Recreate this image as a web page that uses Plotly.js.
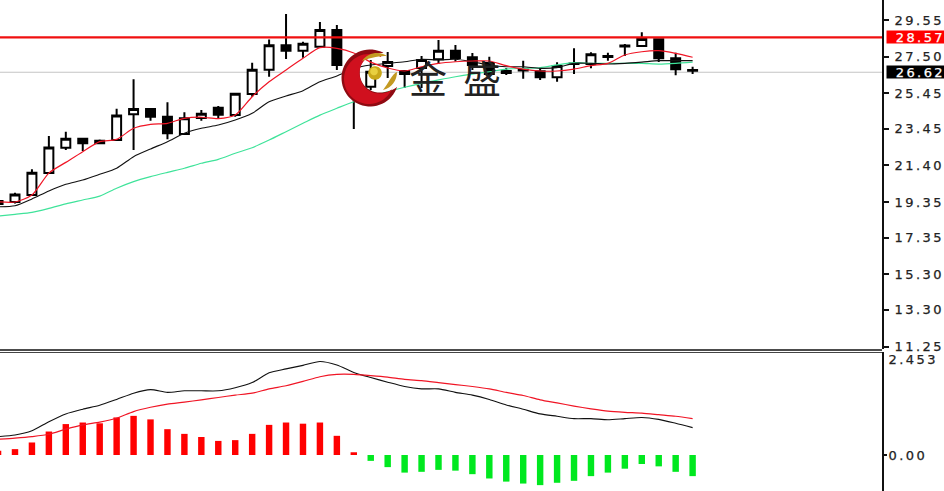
<!DOCTYPE html>
<html><head><meta charset="utf-8">
<script src="https://cdn.plot.ly/plotly-3.0.1.min.js"></script>
<style>
html,body{margin:0;padding:0;background:#fff}
.ytick text,.y2tick text{letter-spacing:2.4px;stroke:#222;stroke-width:.25px}
.annotation[data-index="0"] text,.annotation[data-index="1"] text{letter-spacing:2.4px;stroke:#fff;stroke-width:.25px}
</style></head><body><div id="c" style="width:944px;height:491px"></div>
<script>
const opens =[19.40,19.35,19.74,20.97,22.39,22.90,22.64,22.82,24.26,24.56,24.13,23.16,24.06,24.63,24.22,25.40,26.76,28.13,27.83,28.05,28.99,26.75,25.81,26.97,26.69,26.86,27.35,27.83,27.46,27.14,26.69,26.72,26.67,26.34,27.08,27.08,27.48,28.06,28.09,28.47,27.40,26.71];
const highs =[19.46,19.87,21.18,23.05,23.29,22.91,22.85,24.58,26.23,24.58,24.94,24.38,24.50,24.73,25.43,27.16,28.45,29.89,28.33,29.44,29.27,27.03,27.31,27.76,26.69,27.53,28.43,28.15,27.70,27.49,26.86,27.27,26.84,27.18,27.96,27.74,27.72,28.20,28.86,28.52,27.72,26.93];
const lows  =[19.12,19.26,19.70,20.92,22.26,22.21,22.60,22.81,22.26,23.90,22.86,23.14,23.90,24.06,24.13,25.25,26.37,27.36,27.44,28.04,26.75,23.44,25.63,26.30,25.74,25.74,27.08,27.22,26.75,26.35,26.47,26.26,26.19,26.09,26.52,26.84,27.27,27.53,28.07,27.20,26.45,26.52];
const closes=[19.24,19.77,20.99,22.41,22.90,22.64,22.78,24.19,24.56,24.13,23.20,24.04,24.30,24.24,25.42,26.76,28.13,27.83,28.22,28.99,27.03,25.35,26.65,27.19,26.52,27.31,27.83,27.42,27.03,26.52,26.58,26.77,26.34,26.97,27.11,27.63,27.53,28.12,28.48,27.40,26.79,26.75];
const maFast=[19.36,19.35,19.74,20.97,21.57,22.17,22.73,22.86,23.48,23.70,23.76,24.04,24.10,24.02,24.22,25.25,26.09,26.75,27.40,28.00,27.96,27.70,27.19,26.86,26.69,26.93,27.12,27.21,27.25,27.25,26.99,26.80,26.69,26.69,26.80,26.99,27.12,27.59,27.77,27.83,27.68,27.46];
const maMid =[19.08,19.14,19.52,19.97,20.34,20.58,20.90,21.24,21.89,22.32,22.73,23.20,23.48,23.66,23.94,24.32,24.97,25.29,25.59,26.09,26.41,26.84,27.03,27.12,27.21,27.35,27.31,27.35,27.21,27.03,26.93,26.93,26.84,26.88,27.12,27.12,27.08,27.12,27.19,27.27,27.27,27.27];
const maSlow=[18.56,18.66,18.77,18.99,19.24,19.46,19.68,20.12,20.49,20.77,21.01,21.24,21.52,21.74,22.08,22.39,22.82,23.29,23.76,24.22,24.60,24.97,25.25,25.53,25.78,26.00,26.19,26.37,26.52,26.65,26.80,26.84,26.88,27.03,27.16,27.12,27.12,27.12,27.12,27.08,27.12,27.19];
const macdHist=[0.11,0.15,0.32,0.60,0.79,0.83,0.81,0.96,1.00,0.91,0.66,0.54,0.46,0.36,0.38,0.54,0.77,0.83,0.80,0.83,0.49,0.07,-0.15,-0.31,-0.45,-0.43,-0.38,-0.40,-0.49,-0.60,-0.68,-0.73,-0.77,-0.71,-0.66,-0.54,-0.45,-0.35,-0.23,-0.29,-0.43,-0.54];
const macdLine=[0.47,0.51,0.62,0.85,1.05,1.17,1.27,1.42,1.58,1.67,1.60,1.64,1.64,1.64,1.72,1.85,2.10,2.20,2.29,2.39,2.30,2.11,1.98,1.86,1.75,1.69,1.69,1.60,1.53,1.42,1.28,1.17,1.05,0.99,0.93,0.93,0.90,0.93,0.96,0.91,0.81,0.70];
const macdSignal=[0.40,0.43,0.47,0.53,0.66,0.77,0.84,0.94,1.11,1.22,1.30,1.35,1.41,1.47,1.53,1.58,1.69,1.77,1.88,2.00,2.06,2.06,2.03,1.99,1.93,1.90,1.85,1.80,1.75,1.69,1.60,1.52,1.41,1.33,1.25,1.18,1.12,1.09,1.07,1.03,0.99,0.93];
const priceTicks=[29.55,27.50,25.45,23.45,21.40,19.35,17.35,15.30,13.30,11.25];
const priceTickText=['29.55','27.50','25.45','23.45','21.40','19.35','17.35','15.30','13.30','11.25'];
const macdTicks=[2.453,0];
const macdTickText=['2.453','0.00'];
const markerPrice=28.57, lastPrice=26.62;
const sessions=closes.map((_,i)=>i-1);

const W=944,H=491,AX=882;
const px=x=>(x/W).toFixed(5), py=y=>(1-y/H).toFixed(5);
const P=(x,y)=>px(x)+','+py(y);
const common={xref:'paper',yref:'paper',layer:'above',line:{width:0}};
function circle(cx,cy,r){let s='';for(let a=0;a<=48;a++){const t=a/48*2*Math.PI;s+=(a?'L':'M')+P(cx+r*Math.cos(t),cy+r*Math.sin(t));}return s+'Z';}
function crescent(cx,cy,r,dx,dy){
  let s='';const a0=-62*Math.PI/180,a1=-(360-18)*Math.PI/180;
  for(let a=0;a<=48;a++){const t=a0+(a1-a0)*a/48;s+=(a?'L':'M')+P(cx+r*Math.cos(t),cy+r*Math.sin(t));}
  s+=`C${P(392+dx,92+dy)} ${P(378+dx,95+dy)} ${P(370+dx,90+dy)}`;
  s+=`C${P(358+dx,84+dy)} ${P(356+dx,66+dy)} ${P(366+dx,58+dy)}`;
  s+=`C${P(372+dx,54+dy)} ${P(380+dx,53+dy)} ${P(383+dx,53+dy)}Z`;
  return s;
}
const logoShapes=[
 {...common,type:'path',path:crescent(370,78,28.5,0,0),fillcolor:'#8f0a12'},
 {...common,type:'path',path:crescent(369,79,25,0,1),fillcolor:'#d0101e'},
 {...common,type:'path',path:`M${P(362,61)}C${P(368,52)} ${P(380,51)} ${P(387,56)}C${P(380,56)} ${P(372,57)} ${P(362,61)}Z`,fillcolor:'#c39a22'},
 {...common,type:'path',path:`M${P(383,90)}C${P(392,88)} ${P(397,80)} ${P(397,72)}C${P(392,74)} ${P(388,84)} ${P(383,90)}Z`,fillcolor:'#c39a22'},
 {...common,type:'path',path:circle(375,73,6.8),fillcolor:'#c9a81a'},
 {...common,type:'path',path:circle(374,71.5,3.8),fillcolor:'#e8d040'}
];
const lineShape={shape:'spline',smoothing:0.7};
const traces=[
 {type:'candlestick',x:sessions,open:opens,high:highs,low:lows,close:closes,xaxis:'x',yaxis:'y',whiskerwidth:0,
  increasing:{line:{color:'#000',width:2},fillcolor:'#fff'},decreasing:{line:{color:'#000',width:2},fillcolor:'#000'},hoverinfo:'skip'},
 {type:'scatter',mode:'lines',x:sessions,y:maSlow,xaxis:'x',yaxis:'y',line:{color:'#3fe39a',width:1.2,...lineShape}},
 {type:'scatter',mode:'lines',x:sessions,y:maMid,xaxis:'x',yaxis:'y',line:{color:'#111',width:1.1,...lineShape}},
 {type:'scatter',mode:'lines',x:sessions,y:maFast,xaxis:'x',yaxis:'y',line:{color:'#f01525',width:1.2,...lineShape}},
 {type:'bar',x:sessions,y:macdHist,xaxis:'x',yaxis:'y2',width:0.38,marker:{color:macdHist.map(v=>v>=0?'#ff0000':'#00e81f'),line:{width:0}}},
 {type:'scatter',mode:'lines',x:sessions,y:macdLine,xaxis:'x',yaxis:'y2',line:{color:'#111',width:1.1,...lineShape}},
 {type:'scatter',mode:'lines',x:sessions,y:macdSignal,xaxis:'x',yaxis:'y2',line:{color:'#f01525',width:1.2,...lineShape}}
];
const tickFont={family:'DejaVu Sans',size:13,color:'#222'};
const layout={
 width:W,height:H,margin:{l:0,r:0,t:0,b:0,pad:0},paper_bgcolor:'#fff',plot_bgcolor:'#fff',showlegend:false,boxgap:0.47,boxgroupgap:0,boxmode:'overlay',
 xaxis:{domain:[0,AX/W],range:[-0.885,51.18],visible:false,fixedrange:true,rangeslider:{visible:false}},
 yaxis:{domain:[1-349/H,1],range:[11.11,30.67],side:'right',anchor:'x',showgrid:false,zeroline:false,showline:true,linecolor:'#111',linewidth:2,
   ticks:'outside',ticklen:5,tickwidth:2,tickcolor:'#111',tickmode:'array',tickvals:priceTicks,ticktext:priceTickText,tickfont:tickFont,ticklabelstandoff:3},
 yaxis2:{domain:[0,1-352/H],range:[-0.92,2.632],side:'right',anchor:'x',showgrid:false,zeroline:false,showline:true,linecolor:'#111',linewidth:2,
   ticks:'',tickmode:'array',tickvals:macdTicks,ticktext:macdTickText,tickfont:tickFont,ticklabelstandoff:2},
 shapes:[
  {type:'line',xref:'paper',yref:'y',x0:0,x1:AX/W,y0:lastPrice,y1:lastPrice,line:{color:'#c4c4c4',width:1.2},layer:'below'},
  {type:'line',xref:'paper',yref:'y',x0:0,x1:AX/W,y0:markerPrice,y1:markerPrice,line:{color:'#f01010',width:2.2},layer:'above'},
  {type:'line',xref:'paper',yref:'paper',x0:0,x1:AX/W,y0:1-350/H,y1:1-350/H,line:{color:'#111',width:1.4}},
  {type:'line',xref:'paper',yref:'paper',x0:0,x1:AX/W,y0:1-352.5/H,y1:1-352.5/H,line:{color:'#444',width:1}},
  {type:'line',xref:'paper',yref:'y2',x0:AX/W,x1:887/W,y0:0,y1:0,line:{color:'#111',width:2}},
  ...logoShapes
 ],
 annotations:[
  {xref:'paper',yref:'y',x:886/W,y:markerPrice,xanchor:'left',yanchor:'middle',align:'right',text:markerPrice.toFixed(2),showarrow:false,bgcolor:'#ff0000',width:58,height:12,borderpad:0,font:{family:'DejaVu Sans',size:13,color:'#fff'}},
  {xref:'paper',yref:'y',x:886/W,y:lastPrice,xanchor:'left',yanchor:'middle',align:'right',text:lastPrice.toFixed(2),showarrow:false,bgcolor:'#000',width:58,height:12,borderpad:0,font:{family:'DejaVu Sans',size:13,color:'#fff'}},
  {xref:'paper',yref:'paper',x:428/W,y:1-76/H,xanchor:'center',yanchor:'middle',text:'金',showarrow:false,font:{family:'Noto Sans CJK SC',size:38,color:'#222'}},
  {xref:'paper',yref:'paper',x:482/W,y:1-76/H,xanchor:'center',yanchor:'middle',text:'盛',showarrow:false,font:{family:'Noto Sans CJK SC',size:38,color:'#222'}}
 ]
};
Plotly.newPlot('c',traces,layout,{displayModeBar:false,staticPlot:true});
</script></body></html>
